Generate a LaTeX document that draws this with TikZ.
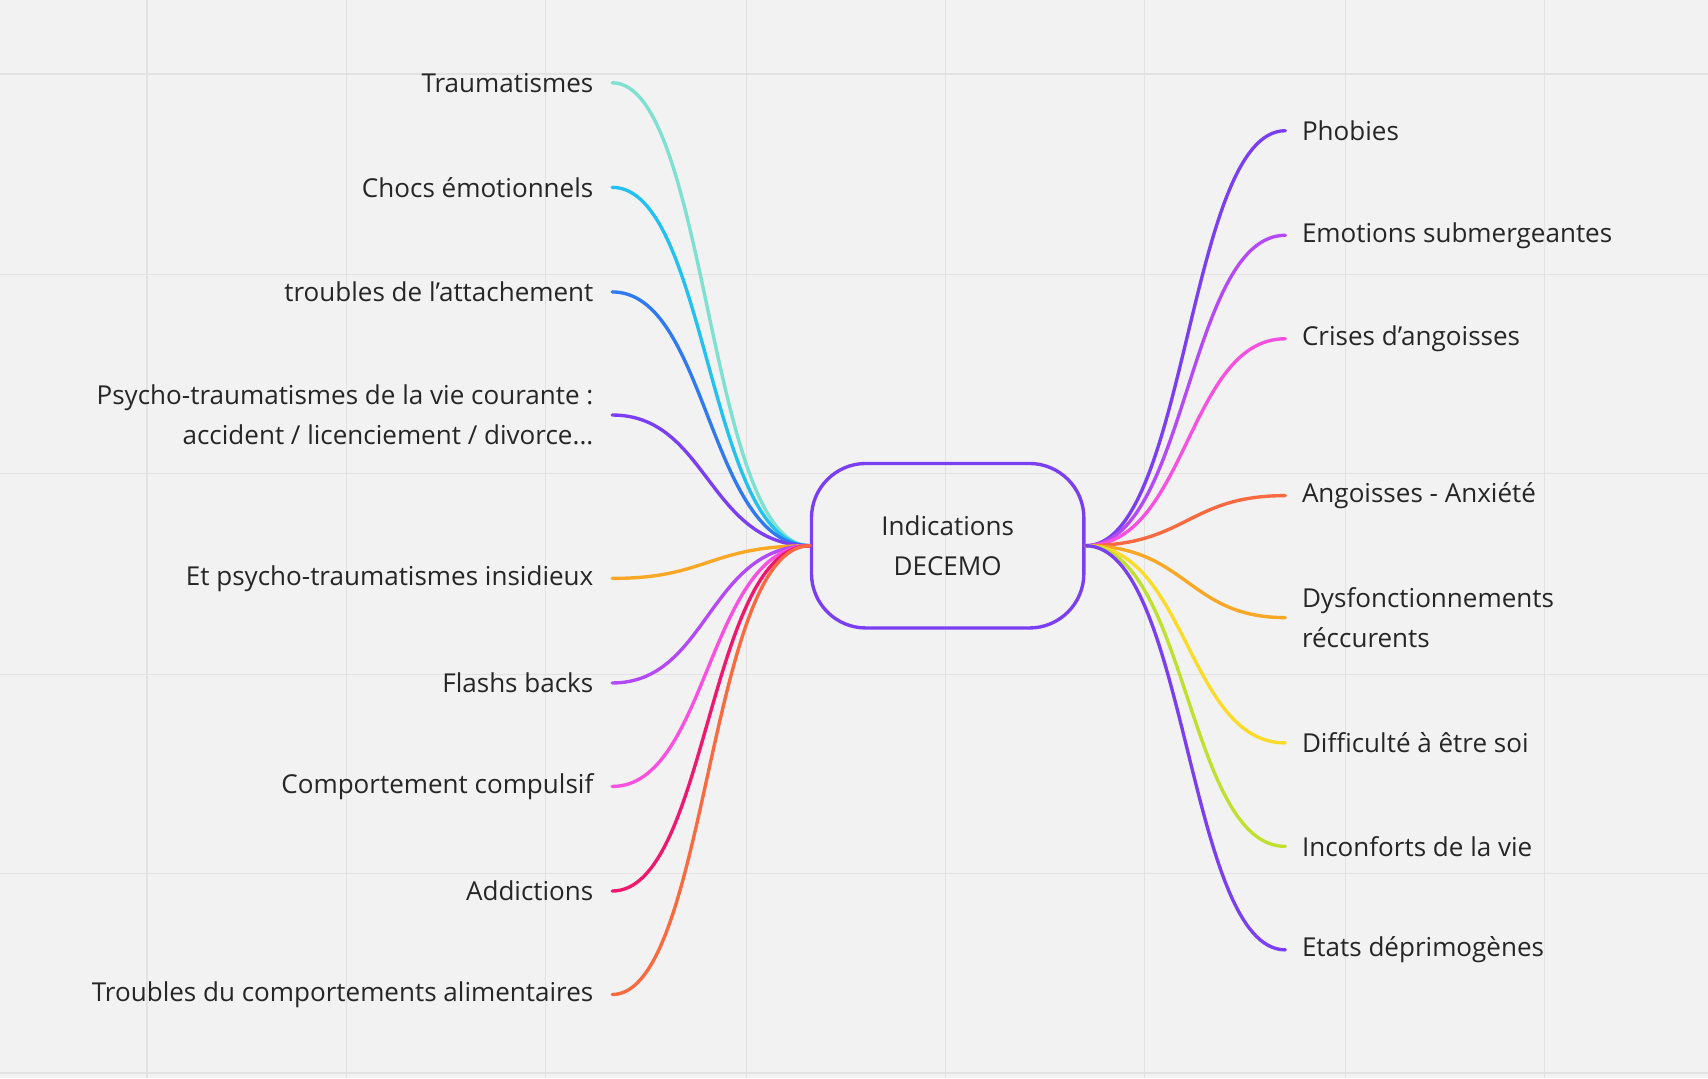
\documentclass[tikz,border=0pt]{standalone}
\usepackage{fontspec}
\setmainfont{Open Sans}
\definecolor{bg}{HTML}{F2F2F2}
\definecolor{gridc}{HTML}{E2E2E2}
\definecolor{cTeal}{HTML}{7EE0D0}
\definecolor{cSky}{HTML}{22C1F0}
\definecolor{cBlue}{HTML}{2F7AF0}
\definecolor{cPurple}{HTML}{7B3FF2}
\definecolor{cAmber}{HTML}{F9A825}
\definecolor{cViolet}{HTML}{B44AF5}
\definecolor{cPink}{HTML}{F850E0}
\definecolor{cRose}{HTML}{F0186E}
\definecolor{cCoral}{HTML}{FA6A40}
\definecolor{cYellow}{HTML}{FADB2A}
\definecolor{cLime}{HTML}{C0E030}
\begin{document}
\begin{tikzpicture}[x=0.025cm, y=-0.025cm,
  hubbox/.style = {draw=cPurple, line width=2.2pt, rounded corners=1.25cm, minimum width=6.25cm, minimum height=3.775cm, align=center, text=black!85},
  leaf/.style = {font=\fontsize{17}{26}\selectfont, text=black!85, inner sep=0pt},
  branch/.style = {line width=2.2pt, line cap=round}]
  \fill[bg] (0,0) rectangle (1568,990);
  \useasboundingbox (0,0) rectangle (1568,990);
  % grid
  \foreach \gx in {135,318,501,685,868,1051,1235,1418}
    \draw[gridc, line width=0.8pt] (\gx,0) -- (\gx,990);
  \foreach \gy in {68,252,435,619,802,985}
    \draw[gridc, line width=0.8pt] (0,\gy) -- (1568,\gy);
  \node[hubbox, font=\fontsize{17}{26}\selectfont] (hub) at (870,501) {Indications\\DECEMO};
  % left side
  \foreach \i/\py/\col/\txt in {
      1/76/cTeal/{Traumatismes},
      2/172/cSky/{Chocs émotionnels},
      3/268/cBlue/{troubles de l'attachement},
      4/381/cPurple/{Psycho-traumatismes de la vie courante :\\accident / licenciement / divorce...},
      5/531/cAmber/{Et psycho-traumatismes insidieux},
      6/627/cViolet/{Flashs backs},
      7/722/cPink/{Comportement compulsif},
      8/818/cRose/{Addictions},
      9/913/cCoral/{Troubles du comportements alimentaires}} {
    \coordinate (l\i) at (562,\py);
    \node[leaf, anchor=east, align=right] (lt\i) at (545,\py) {\txt};
    \draw[branch, \col] (hub.west) .. controls (650,501) and (650,\py) .. (l\i);
  }
  % right side
  \foreach \i/\py/\col/\txt in {
      1/120/cPurple/{Phobies},
      2/216/cViolet/{Emotions submergeantes},
      3/311/cPink/{Crises d'angoisses},
      4/455/cCoral/{Angoisses - Anxiété},
      5/567/cAmber/{Dysfonctionnements\\réccurents},
      6/682/cYellow/{Difficulté à être soi},
      7/777/cLime/{Inconforts de la vie},
      8/872/cPurple/{Etats déprimogènes}} {
    \coordinate (r\i) at (1180,\py);
    \node[leaf, anchor=west, align=left] (rt\i) at (1195,\py) {\txt};
    \draw[branch, \col] (hub.east) .. controls (1090,501) and (1090,\py) .. (r\i);
  }
\end{tikzpicture}
\end{document}
